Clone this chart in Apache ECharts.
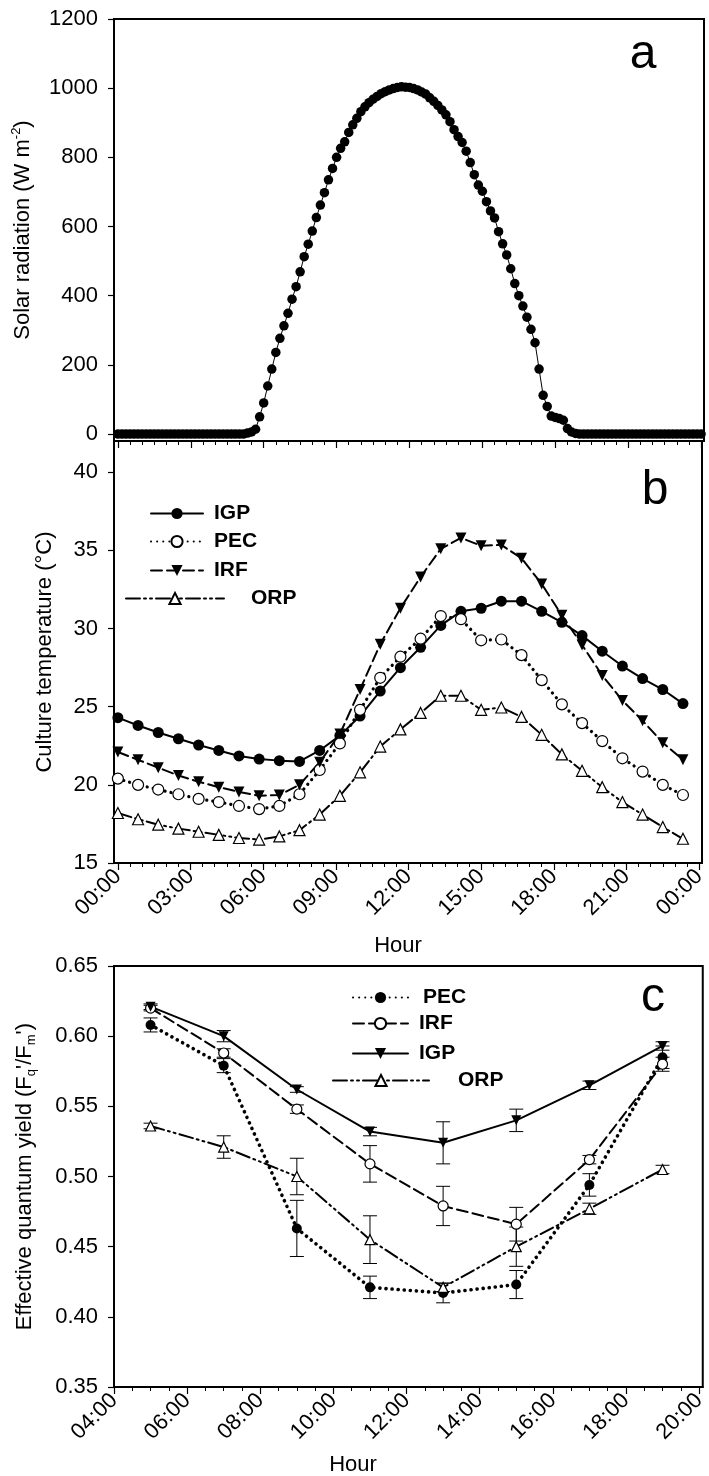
<!DOCTYPE html>
<html><head><meta charset="utf-8">
<script src="https://cdn.jsdelivr.net/npm/echarts@6/dist/echarts.min.js"></script>
<style>html,body{margin:0;padding:0;background:#fff}#c{width:709px;height:1476px}</style>
</head><body><div id="c"></div>
<script>
// ---------- Panel a: solar radiation, one reading every 10 minutes from 00:00 ----------
const radStepMinutes = 10;
const radiation = [
  0,0,0,0,0,0,0,0,0,0,0,0,0,0,0,0,0,0,0,0,0,0,0,0,0,0,0,0,0,0,0,0,
  3,6,14,50,90,139,188,236,277,313,349,390,426,469,513,549,587,626,662,698,735,768,800,826,845,872,894,913,932,
  946,958,968,976,984,990,995,999,1002,1004,1003,1002,999,995,989,983,972,962,950,937,923,903,880,860,843,818,
  785,750,720,702,672,645,625,585,550,518,478,435,400,370,338,303,264,188,112,80,52,48,45,40,16,6,2,
  0,0,0,0,0,0,0,0,0,0,0,0,0,0,0,0,0,0,0,0,0,0,0,0,0,0,0,0,0,0,0
];
const radYTicks = [0,200,400,600,800,1000,1200];

// ---------- Panel b: culture temperature ----------
const tempTimes = ['00:00','00:50','01:40','02:30','03:20','04:10','05:00','05:50','06:40','07:30',
  '08:20','09:10','10:00','10:50','11:40','12:30','13:20','14:10','15:00','15:50','16:40','17:30',
  '18:20','19:10','20:00','20:50','21:40','22:30','23:20'];
const tempIGP = [24.3,23.8,23.35,22.95,22.55,22.2,21.85,21.65,21.55,21.5,22.2,23.15,24.4,26.0,27.5,28.8,30.2,31.1,31.3,31.75,31.75,31.1,30.4,29.55,28.55,27.6,26.8,26.1,25.2];
const tempPEC = [20.4,20.0,19.7,19.4,19.1,18.9,18.65,18.45,18.65,19.4,20.95,22.65,24.8,26.85,28.2,29.35,30.8,30.6,29.25,29.3,28.3,26.7,25.15,23.95,22.8,21.7,20.85,20.0,19.35];
const tempIRF = [22.1,21.6,21.1,20.6,20.2,19.85,19.55,19.3,19.35,20.0,21.45,23.25,26.1,29.0,31.3,33.3,35.1,35.8,35.3,35.35,34.5,32.85,30.85,28.95,27.0,25.4,24.1,22.7,21.6];
const tempORP = [18.2,17.8,17.45,17.2,17.0,16.8,16.6,16.5,16.7,17.1,18.1,19.3,20.8,22.45,23.55,24.6,25.7,25.7,24.8,24.95,24.35,23.2,21.95,20.9,19.85,18.9,18.1,17.3,16.55];
const tempYTicks = [15,20,25,30,35,40];
const dayXTicks = [0,3,6,9,12,15,18,21,24];

// ---------- Panel c: effective quantum yield ----------
const yieldTimes = [5,7,9,11,13,15,17,19];
const yieldPEC = [0.608,0.579,0.463,0.421,0.417,0.423,0.494,0.585];
const errPEC   = [0.005,0.005,0.020,0.008,0.007,0.010,0.008,0.008];
const yieldIRF = [0.620,0.588,0.548,0.509,0.479,0.466,0.512,0.580];
const errIRF   = [0.002,0.003,0.003,0.013,0.014,0.012,0.003,0.005];
const yieldIGP = [0.621,0.600,0.562,0.532,0.524,0.540,0.565,0.593];
const errIGP   = [0.002,0.004,0.002,0.003,0.015,0.008,0.003,0.003];
const yieldORP = [0.536,0.521,0.500,0.455,0.421,0.450,0.477,0.505];
const errORP   = [0.002,0.008,0.013,0.017,0.003,0.014,0.004,0.003];
const yieldYTicks = [0.35,0.40,0.45,0.50,0.55,0.60,0.65];
const yieldXTicks = [4,6,8,10,12,14,16,18,20];

// ---------- helpers ----------
const FONT = "'Liberation Sans', Arial, sans-serif";
function toHours(s){ const p = s.split(':'); return (+p[0]) + (+p[1])/60; }
function halfHours(a,b){ const r=[]; for(let v=a; v<=b+1e-9; v+=0.5) r.push(v); return r; }
function hourLabel(v){ const h = Math.round(v) % 24; return (h<10?'0':'')+h+':00'; }
const tempHours = tempTimes.map(toHours);

const L = 114, R = 5;
const gridStyle = {show:true, borderColor:'#000', borderWidth:2, backgroundColor:'transparent'};
const grids = [
  Object.assign({left:L, right:R, top:19, height:422}, gridStyle),
  Object.assign({left:L, right:R, top:441, height:422}, gridStyle),
  Object.assign({left:L, right:R, top:966, height:421}, gridStyle)
];

function xMajor(grid, min, max, ticks, labels){
  return {type:'value', gridIndex:grid, position:'bottom', min:min, max:max,
    axisLine:{show:true, onZero:false, lineStyle:{color:'#000', width:2}},
    axisTick:{show:true, customValues:ticks, length:7, lineStyle:{color:'#000', width:1.2}},
    axisLabel:{show:labels, customValues:ticks, rotate:45, margin:10, formatter:hourLabel,
      color:'#000', fontSize:22, fontFamily:FONT},
    splitLine:{show:false}};
}
function xMinor(grid, min, max, ticks){
  return {type:'value', gridIndex:grid, position:'bottom', min:min, max:max,
    axisLine:{show:false, onZero:false},
    axisTick:{show:true, customValues:ticks, length:4, lineStyle:{color:'#000', width:1}},
    axisLabel:{show:false}, splitLine:{show:false}};
}
function yAxis(grid, min, max, ticks, fmt, name, gap){
  return {type:'value', gridIndex:grid, min:min, max:max,
    axisLine:{show:true, onZero:false, lineStyle:{color:'#000', width:2}},
    axisTick:{show:true, customValues:ticks, length:6, lineStyle:{color:'#000', width:1.2}},
    axisLabel:{customValues:ticks, formatter:fmt, margin:16, color:'#000', fontSize:22, fontFamily:FONT},
    splitLine:{show:false},
    name:name, nameLocation:'middle', nameGap:gap,
    nameTextStyle:{color:'#000', fontSize:22, fontFamily:FONT, lineHeight:26,
      rich:{sup:{fontSize:13, fontFamily:FONT, color:'#000', verticalAlign:'top', lineHeight:26},
            sub:{fontSize:13, fontFamily:FONT, color:'#000', verticalAlign:'bottom', lineHeight:22}}}};
}

const dash = [11,5], dashDotDot = [14,4,2,4,2,4], dots = [0.1,6];
const triDown = 'path://M0,0 L10,0 L5,9 Z';

function lineSeries(name, xi, yi, xs, ys, symbol, filled, lineType, width, size){
  return {type:'line', name:name, xAxisIndex:xi, yAxisIndex:yi,
    data: xs.map((x,i)=>[x, ys[i]]),
    symbol:symbol, symbolSize:size, showAllSymbol:true,
    itemStyle:{color: filled ? '#000' : '#fff', borderColor:'#000', borderWidth: filled ? 0 : 1.2},
    lineStyle:{color:'#000', width:width, type:lineType, cap:'round'},
    z: 3, animation:false};
}
function errSeries(xi, yi, xs, ys, es){
  return {type:'custom', xAxisIndex:xi, yAxisIndex:yi, z:2, animation:false,
    data: xs.map((x,i)=>[x, ys[i], es[i]]),
    encode:{x:0, y:1},
    renderItem:function(params, api){
      const x = api.value(0), y = api.value(1), e = api.value(2);
      const t = api.coord([x, y+e]), b = api.coord([x, y-e]);
      const hw = 7, st = {stroke:'#000', lineWidth:1};
      return {type:'group', children:[
        {type:'line', shape:{x1:t[0], y1:t[1], x2:b[0], y2:b[1]}, style:st},
        {type:'line', shape:{x1:t[0]-hw, y1:t[1], x2:t[0]+hw, y2:t[1]}, style:st},
        {type:'line', shape:{x1:b[0]-hw, y1:b[1], x2:b[0]+hw, y2:b[1]}, style:st}
      ]};
    }};
}

function legendRow(name, left, top, width, textPad){
  return {data:[name], left:left, top:top, orient:'horizontal', itemWidth:width, itemHeight:14,
    selectedMode:false, padding:0, formatter:function(n){ return n.replace('c-',''); },
    textStyle:{color:'#000', fontSize:21, fontWeight:'bold', fontFamily:FONT, padding:[0,0,0,textPad]}};
}

const option = {
  animation:false,
  backgroundColor:'#fff',
  grid: grids,
  xAxis: [
    xMajor(0, -0.16, 24.12, dayXTicks, false),
    xMinor(0, -0.16, 24.12, halfHours(0,24)),
    xMajor(1, -0.16, 24.12, dayXTicks, true),
    xMinor(1, -0.16, 24.12, halfHours(0,24)),
    xMajor(2, 4, 20.1, yieldXTicks, true),
    xMinor(2, 4, 20.1, halfHours(4,20))
  ],
  yAxis: [
    yAxis(0, -20, 1200, radYTicks, v=>String(Math.round(v)), 'Solar radiation (W m{sup|-2})', 78),
    yAxis(1, 15, 42, tempYTicks, v=>String(Math.round(v)), 'Culture temperature (°C)', 56),
    yAxis(2, 0.35, 0.65, yieldYTicks, v=>v.toFixed(2), "Effective quantum yield (F{sub|q}'/F{sub|m}')", 76)
  ],
  legend: [
    legendRow('IGP', 150, 503, 52, 6),
    legendRow('PEC', 150, 531, 52, 6),
    legendRow('IRF', 150, 560, 52, 6),
    legendRow('ORP', 125, 588, 98, 22),
    legendRow('c-PEC', 352, 987, 55, 10),
    legendRow('c-IRF', 352, 1013, 55, 6),
    legendRow('c-IGP', 352, 1043, 55, 6),
    legendRow('c-ORP', 332, 1070, 96, 24)
  ],
  graphic: [
    {type:'text', x:643, y:55, style:{text:'a', font:"48px "+FONT, fill:'#000', textAlign:'center', textVerticalAlign:'middle'}},
    {type:'text', x:655, y:491, style:{text:'b', font:"48px "+FONT, fill:'#000', textAlign:'center', textVerticalAlign:'middle'}},
    {type:'text', x:653, y:998, style:{text:'c', font:"48px "+FONT, fill:'#000', textAlign:'center', textVerticalAlign:'middle'}},
    {type:'text', x:398, y:946, style:{text:'Hour', font:"22px "+FONT, fill:'#000', textAlign:'center', textVerticalAlign:'middle'}},
    {type:'text', x:353, y:1465, style:{text:'Hour', font:"22px "+FONT, fill:'#000', textAlign:'center', textVerticalAlign:'middle'}}
  ],
  series: [
    {type:'line', name:'Solar radiation', xAxisIndex:0, yAxisIndex:0,
     data: radiation.map((v,i)=>[i*radStepMinutes/60, v]),
     symbol:'circle', symbolSize:9.5, showAllSymbol:true,
     itemStyle:{color:'#000'}, lineStyle:{color:'#000', width:1}, animation:false},

    lineSeries('IGP', 2, 1, tempHours, tempIGP, 'circle', true, 'solid', 2, 11),
    lineSeries('PEC', 2, 1, tempHours, tempPEC, 'circle', false, dots, 3.2, 11),
    lineSeries('IRF', 2, 1, tempHours, tempIRF, triDown, true, dash, 2, 11),
    lineSeries('ORP', 2, 1, tempHours, tempORP, 'triangle', false, dashDotDot, 2, 11),

    errSeries(4, 2, yieldTimes, yieldPEC, errPEC),
    errSeries(4, 2, yieldTimes, yieldIRF, errIRF),
    errSeries(4, 2, yieldTimes, yieldIGP, errIGP),
    errSeries(4, 2, yieldTimes, yieldORP, errORP),
    lineSeries('c-PEC', 4, 2, yieldTimes, yieldPEC, 'circle', true, dots, 3.6, 10),
    lineSeries('c-IRF', 4, 2, yieldTimes, yieldIRF, 'circle', false, dash, 2, 10),
    lineSeries('c-IGP', 4, 2, yieldTimes, yieldIGP, triDown, true, 'solid', 2, 10),
    lineSeries('c-ORP', 4, 2, yieldTimes, yieldORP, 'triangle', false, dashDotDot, 2, 10)
  ]
};
const chart = echarts.init(document.getElementById('c'), null, {renderer:'canvas'});
chart.setOption(option);
</script></body></html>
